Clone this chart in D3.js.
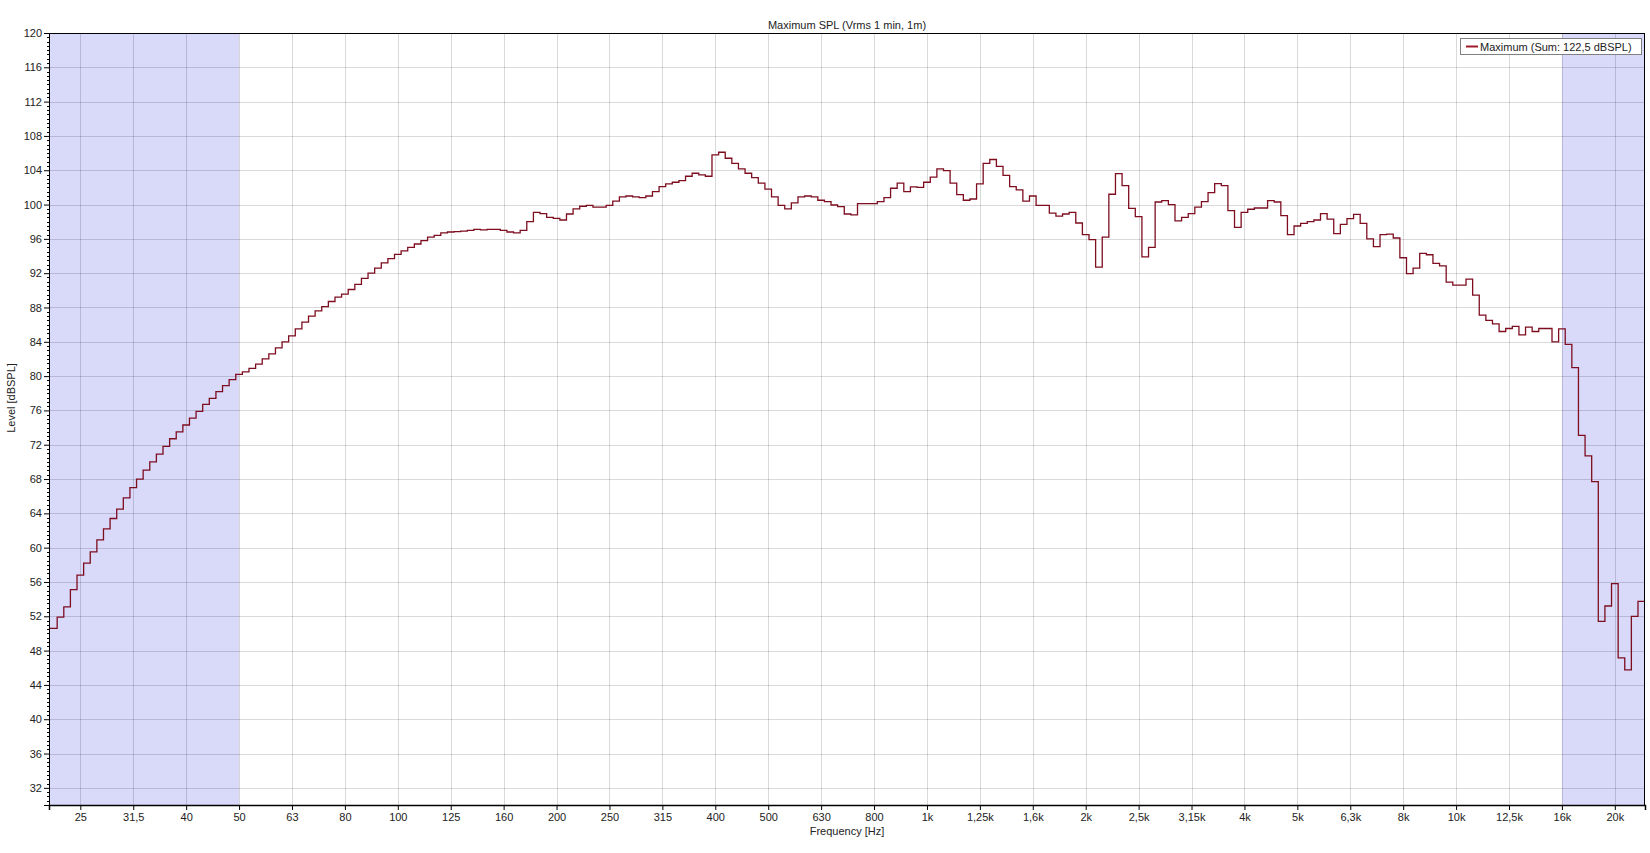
<!DOCTYPE html>
<html>
<head>
<meta charset="utf-8">
<script src="https://cdn.jsdelivr.net/npm/d3@7"></script>
<style>
  html, body { margin: 0; padding: 0; background: #fff; }
  svg { display: block; }
  text { font-family: "Liberation Sans", Arial, sans-serif; fill: #222; }
</style>
</head>
<body>
<svg id="chart" width="1650" height="853"></svg>
<script>
// ---- Data ----
const chartTitle = "Maximum SPL (Vrms 1 min, 1m)";
const xAxisTitle = "Frequency [Hz]";
const yAxisTitle = "Level [dBSPL]";
const legendLabel = "Maximum (Sum: 122,5 dBSPL)";

// 1/24-octave band index of the first band (band centre = 10^(k/80) Hz)
const firstBandIndex = 108;
// Level per 1/24-octave band [dBSPL]
const levels = [
  50.6, 51.9, 53.1, 55.1, 56.8, 58.2, 59.5, 60.9,
  62.2, 63.4, 64.5, 65.8, 67.0, 68.0, 69.05, 70.0,
  70.9, 71.8, 72.7, 73.5, 74.3, 75.1, 75.9, 76.7,
  77.4, 78.2, 78.9, 79.6, 80.2, 80.5, 80.9, 81.4,
  82.0, 82.6, 83.3, 84.0, 84.7, 85.5, 86.3, 87.0,
  87.6, 88.1, 88.7, 89.2, 89.55, 90.1, 90.7, 91.4,
  92.0, 92.6, 93.2, 93.7, 94.2, 94.6, 95.0, 95.4,
  95.8, 96.2, 96.4, 96.7, 96.8, 96.85, 96.9, 97.0,
  97.1, 97.05, 97.1, 97.1, 97.0, 96.8, 96.7, 97.0,
  98.0, 99.1, 98.95, 98.5, 98.4, 98.2, 98.9, 99.5,
  99.8, 99.9, 99.7, 99.7, 99.9, 100.4, 100.9, 101.0,
  100.9, 100.8, 101.0, 101.5, 102.1, 102.4, 102.6, 102.8,
  103.3, 103.65, 103.45, 103.3, 105.8, 106.1, 105.4, 104.8,
  104.15, 103.65, 103.15, 102.5, 101.8, 100.9, 99.9, 99.5,
  100.2, 100.9, 101.0, 100.9, 100.5, 100.35, 99.95, 99.75,
  98.9, 98.8, 100.1, 100.1, 100.1, 100.35, 100.8, 101.9,
  102.5, 101.5, 102.05, 102.0, 102.6, 103.2, 104.15, 103.95,
  102.5, 101.15, 100.5, 100.65, 102.4, 104.8, 105.25, 104.45,
  103.4, 102.1, 101.7, 100.4, 101.0, 99.9, 99.9, 99.0,
  98.65, 98.9, 99.1, 97.85, 96.5, 95.9, 92.7, 96.2,
  101.2, 103.6, 102.2, 99.55, 98.6, 93.9, 95.0, 100.3,
  100.45, 100.0, 98.1, 98.5, 98.95, 99.7, 100.35, 101.4,
  102.45, 102.2, 99.3, 97.35, 99.1, 99.45, 99.6, 99.6,
  100.45, 100.3, 98.7, 96.5, 97.5, 97.8, 98.0, 98.2,
  98.95, 98.3, 96.6, 97.7, 98.35, 98.85, 97.8, 96.0,
  95.1, 96.5, 96.55, 96.1, 93.8, 91.95, 92.6, 94.3,
  94.15, 93.15, 92.85, 90.95, 90.6, 90.6, 91.3, 89.45,
  87.1, 86.5, 86.1, 85.2, 85.55, 85.8, 84.8, 85.7,
  85.2, 85.55, 85.55, 84.0, 85.5, 83.7, 81.0, 73.1,
  70.7, 67.7, 51.4, 53.2, 55.8, 47.15, 45.75, 52.0,
  53.75
];

const xTickFreqs  = [25, 31.5, 40, 50, 63, 80, 100, 125, 160, 200, 250, 315, 400, 500, 630, 800,
                     1000, 1250, 1600, 2000, 2500, 3150, 4000, 5000, 6300, 8000, 10000, 12500, 16000, 20000];
const xTickLabels = ["25", "31,5", "40", "50", "63", "80", "100", "125", "160", "200", "250", "315", "400", "500", "630", "800",
                     "1k", "1,25k", "1,6k", "2k", "2,5k", "3,15k", "4k", "5k", "6,3k", "8k", "10k", "12,5k", "16k", "20k"];
const yTicks = [32, 36, 40, 44, 48, 52, 56, 60, 64, 68, 72, 76, 80, 84, 88, 92, 96, 100, 104, 108, 112, 116, 120];
const yDomain = [30, 120];
const xDomain = [Math.pow(10, 1.3408), Math.pow(10, 4.357)];
const shadedLow = 50;      // Hz, shaded below
const shadedHigh = 16000;  // Hz, shaded above

// ---- Layout ----
const plot = { left: 49, top: 33, right: 1645, bottom: 805 };
const svg = d3.select("#chart");

// exact (base-10) third-octave position for a nominal frequency
const exact = f => Math.pow(10, Math.round(10 * Math.log10(f)) / 10);

const x = d3.scaleLog().domain(xDomain).range([plot.left, plot.right]);
const y = d3.scaleLinear().domain(yDomain).range([plot.bottom, plot.top]);

// Shaded regions
svg.append("rect")
  .attr("x", x(xDomain[0])).attr("y", plot.top)
  .attr("width", x(exact(shadedLow)) - x(xDomain[0]))
  .attr("height", plot.bottom - plot.top)
  .attr("fill", "#d9d9fa");
svg.append("rect")
  .attr("x", x(exact(shadedHigh))).attr("y", plot.top)
  .attr("width", x(xDomain[1]) - x(exact(shadedHigh)))
  .attr("height", plot.bottom - plot.top)
  .attr("fill", "#d9d9fa");

// Grid
const grid = svg.append("g").attr("shape-rendering", "crispEdges");
grid.selectAll("line.v").data(xTickFreqs).enter().append("line")
  .attr("x1", d => Math.round(x(exact(d))) + 0.5).attr("x2", d => Math.round(x(exact(d))) + 0.5)
  .attr("y1", plot.top).attr("y2", plot.bottom)
  .attr("stroke", "rgba(0,0,0,0.15)");
grid.selectAll("line.h").data(yTicks).enter().append("line")
  .attr("x1", plot.left).attr("x2", plot.right)
  .attr("y1", d => Math.round(y(d)) + 0.5).attr("y2", d => Math.round(y(d)) + 0.5)
  .attr("stroke", "rgba(0,0,0,0.15)");

// Data line (1/24 octave steps)
const pts = levels.map((v, i) => {
  const k = firstBandIndex + i;
  let lo = Math.pow(10, (k - 0.5) / 80);
  if (i === 0) lo = xDomain[0];
  return [lo, v];
});
const lastK = firstBandIndex + levels.length - 1;
pts.push([Math.min(Math.pow(10, (lastK + 0.5) / 80), xDomain[1]), levels[levels.length - 1]]);

const line = d3.line().x(d => x(d[0])).y(d => y(d[1])).curve(d3.curveStepAfter);
svg.append("defs").append("clipPath").attr("id", "clip")
  .append("rect").attr("x", plot.left).attr("y", plot.top)
  .attr("width", plot.right - plot.left).attr("height", plot.bottom - plot.top);
svg.append("path").datum(pts)
  .attr("clip-path", "url(#clip)")
  .attr("d", line)
  .attr("fill", "none")
  .attr("stroke", "#7d0d1f")
  .attr("stroke-width", 1.3);

// Frame
svg.append("rect")
  .attr("x", plot.left + 0.5).attr("y", plot.top + 0.5)
  .attr("width", plot.right - plot.left - 1).attr("height", plot.bottom - plot.top)
  .attr("fill", "none").attr("stroke", "#000").attr("stroke-width", 1)
  .attr("shape-rendering", "crispEdges");

// Y axis
const yAxis = d3.axisLeft(y).tickValues(yTicks).tickSize(5).tickPadding(2).tickFormat(d3.format("d"));
const yg = svg.append("g").attr("transform", `translate(${plot.left},0)`).call(yAxis);
yg.select(".domain").attr("stroke", "#000");
yg.selectAll(".tick line").attr("stroke", "#000");
yg.selectAll(".tick text").attr("font-size", 11).attr("fill", "#222")
  .attr("font-family", "Liberation Sans, Arial, sans-serif");
// minor ticks every 0.5 dB
const yMinor = d3.range(yDomain[0], yDomain[1] + 0.01, 0.5).filter(v => yTicks.indexOf(v) < 0);
svg.append("g").attr("shape-rendering", "crispEdges").selectAll("line").data(yMinor).enter().append("line")
  .attr("x1", plot.left - 2).attr("x2", plot.left + 1)
  .attr("y1", d => Math.round(y(d)) + 0.5).attr("y2", d => Math.round(y(d)) + 0.5)
  .attr("stroke", "#000");

// X axis
const xAxis = d3.axisBottom(x).tickValues(xTickFreqs.map(exact)).tickSize(5).tickPadding(3)
  .tickFormat((d, i) => xTickLabels[i]);
const xg = svg.append("g").attr("transform", `translate(0,${plot.bottom})`).call(xAxis);
xg.select(".domain").attr("stroke", "#000").attr("stroke-width", 1.5);
xg.selectAll(".tick line").attr("stroke", "#000");
xg.selectAll(".tick text").attr("font-size", 11).attr("fill", "#222")
  .attr("font-family", "Liberation Sans, Arial, sans-serif");

// Titles
svg.append("text").attr("x", (plot.left + plot.right) / 2).attr("y", 29)
  .attr("text-anchor", "middle").attr("font-size", 11).text(chartTitle);
svg.append("text").attr("x", (plot.left + plot.right) / 2).attr("y", 835)
  .attr("text-anchor", "middle").attr("font-size", 11).text(xAxisTitle);
svg.append("text").attr("transform", "translate(15,398) rotate(-90)")
  .attr("text-anchor", "middle").attr("font-size", 11).text(yAxisTitle);

// Legend
const lg = svg.append("g").attr("transform", "translate(1460,38)");
lg.append("rect").attr("x", 0.5).attr("y", 0.5).attr("width", 181).attr("height", 16)
  .attr("fill", "#fff").attr("stroke", "#808080").attr("shape-rendering", "crispEdges");
lg.append("line").attr("x1", 6).attr("x2", 18).attr("y1", 8.5).attr("y2", 8.5)
  .attr("stroke", "#a11a2a").attr("stroke-width", 2);
lg.append("text").attr("x", 20).attr("y", 12.5).attr("font-size", 11).text(legendLabel);
</script>
</body>
</html>
